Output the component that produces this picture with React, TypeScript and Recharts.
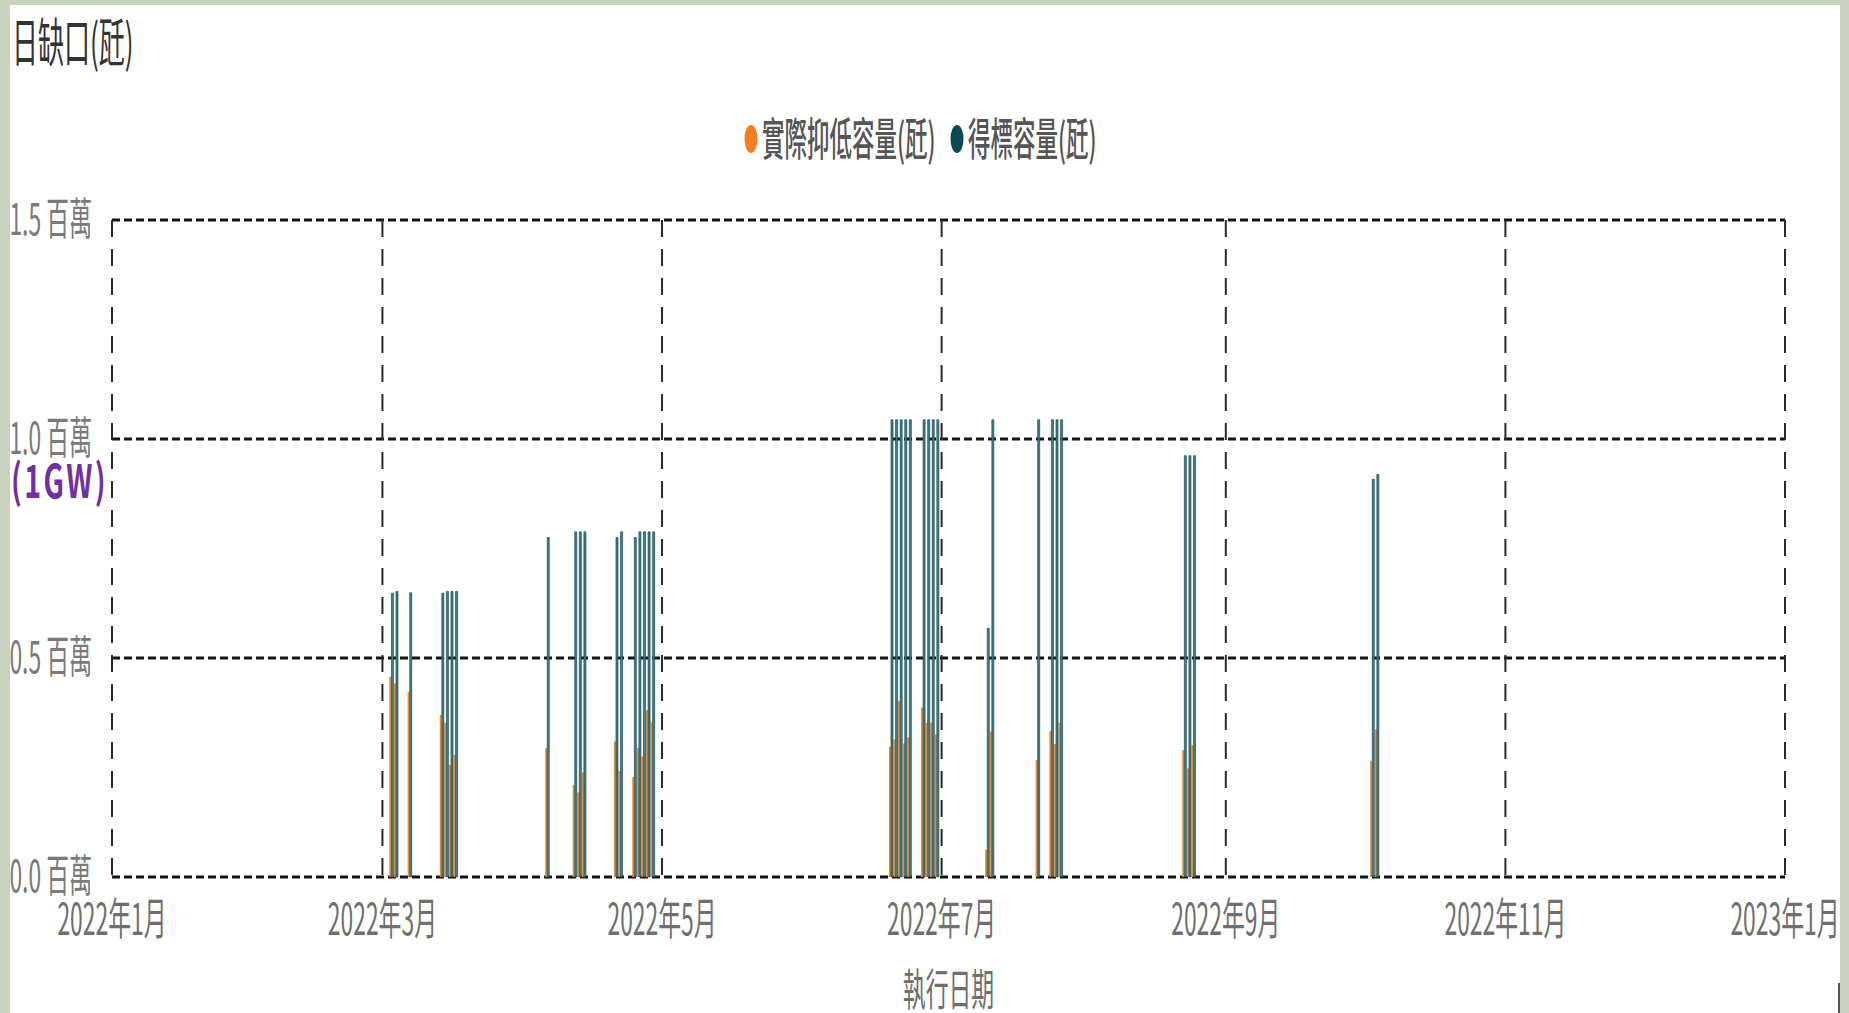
import React from "react";
import { BarChart, Bar, XAxis, YAxis, CartesianGrid, Legend } from "recharts";

// execution dates and daily capacities (kW)
const execDates = [
  "2022-03-03", "2022-03-04", "2022-03-07",
  "2022-03-14", "2022-03-15", "2022-03-16", "2022-03-17",
  "2022-04-06",
  "2022-04-12", "2022-04-13", "2022-04-14",
  "2022-04-21", "2022-04-22",
  "2022-04-25", "2022-04-26", "2022-04-27", "2022-04-28", "2022-04-29",
  "2022-06-20", "2022-06-21", "2022-06-22", "2022-06-23", "2022-06-24",
  "2022-06-27", "2022-06-28", "2022-06-29", "2022-06-30",
  "2022-07-11", "2022-07-12",
  "2022-07-22",
  "2022-07-25", "2022-07-26", "2022-07-27",
  "2022-08-23", "2022-08-24", "2022-08-25",
  "2022-10-03", "2022-10-04",
];
const actualKw = [
  457000, 442000, 423000,
  370000, 352000, 256000, 279000,
  294000,
  210000, 193000, 239000,
  309000, 242000,
  228000, 294000, 275000, 381000, 353000,
  298000, 314000, 402000, 305000, 319000,
  387000, 352000, 352000, 326000,
  63000, 332000,
  267000,
  333000, 304000, 352000,
  290000, 248000, 301000,
  265000, 337000,
];
const awardedKw = [
  648000, 652000, 649000,
  648000, 652000, 652000, 652000,
  775000,
  788000, 788000, 788000,
  775000, 788000,
  775000, 788000, 788000, 788000, 788000,
  1044000, 1044000, 1044000, 1044000, 1044000,
  1044000, 1044000, 1044000, 1044000,
  568000, 1044000,
  1044000,
  1044000, 1044000, 1044000,
  962000, 962000, 962000,
  908000, 919000,
];
const monthTicks = [
  "2022-01-01", "2022-03-01", "2022-05-01", "2022-07-01",
  "2022-09-01", "2022-11-01", "2023-01-01",
];
const yTicks = [0, 500000, 1000000, 1500000];
const seriesNames = ["實際抑低容量(瓩)", "得標容量(瓩)"];

const toTs = (d: string) => {
  const [y, m, dd] = d.split("-").map(Number);
  return Date.UTC(y, m - 1, dd);
};

const data = execDates.map((d, i) => ({
  t: toTs(d),
  actual: actualKw[i],
  awarded: awardedKw[i],
}));
const xTicks = monthTicks.map(toTs);

const FONT = '"Noto Sans CJK TC", "Noto Sans", sans-serif';
const SQ = 0.52;
const legendColors: Record<string, string> = { actual: "#f47f20", awarded: "#0b4a55" };

function XTick({ x, payload }: any) {
  const d = new Date(payload.value);
  const label = `${d.getUTCFullYear()}年${d.getUTCMonth() + 1}月`;
  return (
    <text
      transform={`translate(${x},935) scale(${SQ},1)`}
      textAnchor="middle"
      fontSize={44}
      fill="#6f6f6f"
      fontFamily={FONT}
    >
      {label}
    </text>
  );
}

function YTick({ y, payload }: any) {
  const v = payload.value as number;
  return (
    <g>
      <text
        transform={`translate(92,${y + 15}) scale(${SQ},1)`}
        textAnchor="end"
        fontSize={44}
        fill="#7a7a7a"
        fontFamily={FONT}
      >
        {`${(v / 1e6).toFixed(1)} 百萬`}
      </text>
      {v === 1000000 && (
        <text
          transform={`translate(11,${y + 59}) scale(0.62,1)`}
          fontSize={46}
          fontWeight="bold"
          letterSpacing={4}
          fill="#7030a0"
          fontFamily={FONT}
        >
          (1GW)
        </text>
      )}
    </g>
  );
}

function LegendContent({ payload }: any) {
  const offsets = [0, 206];
  return (
    <svg width={480} height={70} style={{ overflow: "visible" }}>
      {(payload || []).map((p: any, i: number) => (
        <g key={p.value} transform={`translate(${offsets[i]},0)`}>
          <ellipse cx={11} cy={27} rx={6.5} ry={14} fill={legendColors[p.dataKey]} />
          <text
            transform={`translate(22,44) scale(0.5,1)`}
            fontSize={45}
            fontWeight={500}
            fill="#555"
            fontFamily={FONT}
          >
            {p.value}
          </text>
        </g>
      ))}
    </svg>
  );
}

export default function App() {
  return (
    <div
      style={{
        position: "absolute",
        left: 0,
        top: 0,
        width: 1849,
        height: 1013,
        background: "#c8d2bf",
        overflow: "hidden",
      }}
    >
      <div
        style={{
          position: "absolute",
          left: 10,
          top: 5,
          width: 1830,
          height: 1008,
          background: "#ffffff",
        }}
      />
      <div
        style={{
          position: "absolute",
          left: 1838,
          top: 983,
          width: 2,
          height: 30,
          background: "#555",
        }}
      />
      <div
        style={{
          position: "absolute",
          left: 12,
          top: 14,
          fontFamily: FONT,
          fontSize: 52,
          lineHeight: 1,
          color: "#333",
          transform: `scaleX(0.5)`,
          transformOrigin: "left top",
          whiteSpace: "nowrap",
        }}
      >
        日缺口(瓩)
      </div>
      <div style={{ position: "absolute", left: 0, top: 0 }}>
        <BarChart
          width={1849}
          height={1013}
          data={data}
          margin={{ top: 220, right: 64, bottom: 0, left: 12 }}
          barGap={0}
        >
          <CartesianGrid
            horizontal={true}
            vertical={false}
            stroke="#151515"
            strokeWidth={3.2}
            strokeDasharray="8 4"
          />
          <CartesianGrid
            horizontal={false}
            vertical={true}
            stroke="#2a2a2a"
            strokeWidth={2}
            strokeDasharray="17 12"
          />
          <XAxis
            dataKey="t"
            type="number"
            scale="linear"
            domain={[xTicks[0], xTicks[xTicks.length - 1]]}
            ticks={xTicks}
            interval={0}
            axisLine={false}
            tickLine={false}
            height={136}
            tick={<XTick />}
            label={{
              value: "執行日期",
              content: (p: any) => {
                const vb = p.viewBox || {};
                return (
                  <text
                    transform={`translate(${vb.x + vb.width / 2},1006) scale(${SQ},1)`}
                    textAnchor="middle"
                    fontSize={44}
                    fill="#6f6f6f"
                    fontFamily={FONT}
                  >
                    執行日期
                  </text>
                );
              },
            }}
          />
          <YAxis
            type="number"
            domain={[0, 1500000]}
            ticks={yTicks}
            interval={0}
            axisLine={false}
            tickLine={false}
            width={100}
            tick={<YTick />}
          />
          <Legend
            layout="horizontal"
            verticalAlign="middle"
            align="center"
            wrapperStyle={{ left: 740, top: 112, width: 480, height: 70 }}
            content={<LegendContent />}
          />
          <Bar
            dataKey="actual"
            name={seriesNames[0]}
            fill="#ef8a36"
            barSize={2}
            isAnimationActive={false}
          />
          <Bar
            dataKey="awarded"
            name={seriesNames[1]}
            fill="#3f7e88"
            stroke="#103f47"
            strokeWidth={0.6}
            barSize={3}
            isAnimationActive={false}
          />
        </BarChart>
      </div>
    </div>
  );
}
